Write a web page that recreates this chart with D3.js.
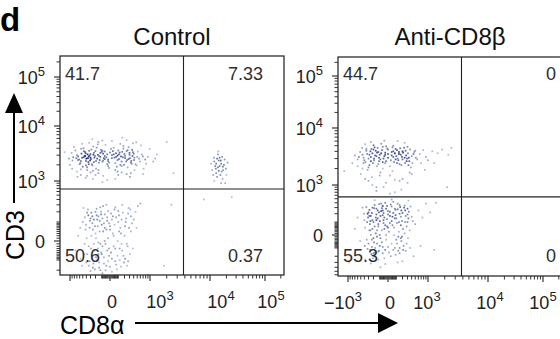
<!DOCTYPE html>
<html>
<head>
<meta charset="utf-8">
<script src="https://cdn.jsdelivr.net/npm/d3@7"></script>
<style>
  body { margin: 0; background: #fff; }
  svg { display: block; }
  text { font-family: "Liberation Sans", Arial, sans-serif; }
</style>
</head>
<body>
<svg id="chart" width="560" height="339"></svg>
<script>
// ---------------- data ----------------
const panelTitles = ["Control", "Anti-CD8\u03B2"];

// quadrant frequencies (%)
const pctUL = [41.7, 44.7];
const pctUR = [7.33, 0];
const pctLL = [50.6, 55.3];
const pctLR = [0.37, 0];

// quadrant gate positions (fluorescence units)
const gateCD8a = [3800, 3800];
const gateCD3 = [680, 550];

// axis ticks
const majorTicksX = [-1000, 0, 1000, 10000, 100000];
const labelledTicksX = [[0, 1000, 10000, 100000], [-1000, 0, 1000, 10000, 100000]];
const labelledTicksY = [0, 1000, 10000, 100000];

// events: [CD8a, CD3]
const ctrlCD3pos = [
[-120,2800],[40,3100],[-310,2400],[210,2650],[-60,3500],[-450,2900],[150,1900],[-230,3300],[330,2200],[-20,2500],
[-180,4100],[90,2950],[-380,1800],[260,3700],[-90,2300],[10,3900],[-540,3200],[420,2700],[-270,2050],[120,3350],
[-150,1600],[-40,2750],[300,3050],[-620,2500],[180,4400],[-330,3600],[60,2150],[-210,2900],[480,1950],[-80,3200],
[-700,3000],[250,2450],[-10,1750],[-360,2650],[140,2850],[-480,4000],[380,3400],[-140,2200],[20,3000],[-260,1950],
[560,2600],[-50,4600],[-410,2350],[200,3150],[-170,2600],[-850,2750],[80,1850],[-300,3150],[340,2350],[-110,3750],
[-580,2150],[110,2550],[-240,4300],[-30,2050],[650,3100],[-440,3450],[170,2750],[-190,1700],[30,3550],[-340,2850],
[450,2050],[-70,2650],[-920,3300],[280,4200],[-130,2450],[-500,1850],[70,3250],[-280,3800],[370,2900],[-20,1900],
[-660,2450],[230,2300],[-160,3050],[-400,2600],[130,4800],[-60,2900],[780,2500],[-350,2250],[0,3350],[-220,2700],
[520,3500],[-760,3650],[190,2000],[-100,3450],[-470,2750],[310,2650],[-250,1550],[50,2700],[-550,3900],[400,3200],
[-190,2350],[-1050,2600],[100,3650],[-320,2950],[260,1800],[-80,2400],[-600,2050],[160,3450],[-420,3250],[590,2300],
[900,2800],[1150,2300],[1350,3100],[720,1700],[980,3900],[-1000,2000],[-820,4200],[620,4500],[-150,5200],[240,5600],
[-380,1250],[60,1100],[-90,950],[330,1400],[-560,1300],[470,5100],[-260,5800],[820,2100],[1250,2600],[-700,1500],
[-30,3100],[-370,3100],[210,2900],[-140,2900],[90,2450],[-290,2550],[360,3750],[-520,2700],[-10,2200],[180,3950],
[-230,2250],[-470,3550],[280,2550],[-120,3300],[40,4100],[-650,2850],[130,2000],[-200,3550],[410,2450],[-60,2550],
[-880,2400],[300,3300],[-340,2050],[70,2800],[-430,2900],[500,2800],[-160,4700],[-20,2350],[240,3550],[-560,2350],
[150,2300],[-300,2700],[-90,3600],[690,2850],[-410,1950],[20,2650],[-240,3050],[350,2100],[-720,2650],[110,3100],
[-200,1300],[150,1450],[-420,1150],[60,1600],[-80,1250],[310,1200],[-560,1650],[240,1350],[-30,1050],[-300,1450],
[420,1600],[-150,1400],[100,1300],[-680,1200],[20,5400],[-330,5000],[160,6200],[-520,4800],[380,4900],[-90,5500],
[700,1350],[-900,1700],[-250,1100],[90,1500],[-380,1600]
];
const ctrlCD3neg = [
[-80,40],[120,-30],[-260,90],[30,150],[-150,-60],[-20,10],[210,70],[-340,-20],[60,-110],[-110,200],
[-200,30],[150,120],[-40,-150],[-300,130],[90,0],[-170,-100],[270,180],[-60,60],[-420,50],[10,-50],
[-130,110],[180,-70],[-240,-130],[50,230],[-90,-20],[330,40],[-10,90],[-380,-60],[110,160],[-190,10],
[-50,-200],[240,-10],[-280,190],[0,50],[-160,70],[400,120],[-70,-80],[-500,100],[140,30],[-30,140],
[-220,-40],[70,-140],[-120,-10],[280,250],[-350,160],[20,-90],[-100,80],[190,-120],[-270,-90],[100,100],
[-450,-10],[-10,-30],[360,90],[-180,240],[40,20],[-320,60],[160,-40],[-60,170],[-140,-170],[230,130],
[-400,-120],[80,-190],[-230,120],[-20,-110],[310,-60],[-80,280],[-580,60],[130,60],[-110,-50],[20,120],
[-290,-30],[450,200],[-150,150],[60,-30],[-40,50],[-360,230],[200,20],[-250,-170],[-90,130],[120,-100],
[-190,-80],[10,180],[-470,-60],[260,-20],[-50,-10],[-310,110],[170,190],[-130,40],[-650,20],[90,-70],
[-20,210],[-210,70],[330,150],[-70,-130],[-390,10],[50,80],[-160,-30],[520,280],[-120,260],[-260,150],
[0,-160],[220,100],[-340,-150],[-30,110],[140,-160],[-440,140],[-100,-60],[290,60],[-200,200],[30,30],
[-560,-90],[-60,0],[380,-30],[-170,120],[70,140],[-280,20],[100,210],[-120,-200],[-10,-70],[-230,-10],
[600,320],[-750,-40],[480,60],[-40,300],[-300,-210],[160,300],[-480,250],[250,-150],[-90,-240],[20,-220],
[-180,160],[110,40],[-320,-110],[-70,90],[210,-90],[-410,80],[40,-20],[-140,-120],[320,230],[-250,50],
[-30,-40],[-520,-150],[150,-10],[-110,170],[-210,-190],[60,260],[270,-110],[-380,190],[-150,-5],[0,70]
];
const ctrlCD8pos = [
[14000,1800],[12000,2300],[16500,1500],[13500,1200],[18000,2000],[15000,2700],[11000,1600],[17000,1100],[14500,2400],[19500,1700],
[12500,1900],[16000,2100],[13000,1400],[15500,1300],[21000,2200],[10500,2100],[14000,3100],[17500,1600],[12000,1000],[15000,1900],
[13500,2600],[16000,900],[18500,2500],[11500,1300],[14500,1550],[20000,1300],[13000,2100],[15800,2400],[12800,1700],[17200,1850],
[14200,3500],[16700,2800],[11800,2700],[19000,900]
];
const ctrlOther = [[8000,400],[25000,450],[2400,300],[2000,5200],[1800,-150],[-1300,3400],[2600,1400],[900,-260]];

const antiCD3pos = [
[40,3400],[-120,3900],[200,2900],[-250,3200],[90,4400],[-60,2600],[310,3700],[-180,4700],[0,3100],[150,2400],
[-330,3600],[260,4100],[-90,2900],[60,5000],[-210,2500],[400,3300],[-30,3800],[120,3000],[-150,3300],[230,4600],
[-400,2800],[20,2200],[-70,4200],[340,2700],[-260,4000],[170,3500],[-120,2400],[80,3700],[-20,4900],[290,3000],
[-350,4400],[-190,2800],[110,4200],[-40,3300],[470,3900],[-280,2300],[30,2800],[190,3200],[-100,3500],[-450,3500],
[250,2500],[-10,4500],[-220,3700],[140,3900],[-60,2000],[360,4300],[-160,4100],[70,2600],[-300,3000],[520,3100],
[-80,5400],[210,3800],[-370,2600],[0,3600],[-140,2200],[130,2800],[-240,4400],[420,2500],[60,4000],[-50,3000],
[-520,3900],[300,4800],[-110,3100],[180,2300],[-200,5100],[100,3300],[-30,2500],[270,3400],[-420,3100],[50,4700],
[650,3600],[-170,3400],[-600,2900],[780,4200],[-90,1700],[380,2100],[900,3200],[1200,4000],[-700,3400],[1500,3700],
[240,5600],[-320,1900],[20,1500],[560,2900],[-460,4600],[1000,2800],[-40,6100],[150,1200],[-230,1400],[1800,4300],
[330,3100],[-130,4600],[60,3200],[-280,3500],[200,4000],[-20,2700],[450,3600],[-190,3000],[110,2500],[-350,4100],
[0,4300],[-80,3700],[240,3100],[-250,2700],[90,2900],[-420,2500],[320,2300],[-140,3800],[160,4500],[-30,3500],
[-560,3200],[500,4100],[-110,2700],[40,3900],[-200,4300],[280,2700],[-300,2100],[140,3600],[-60,4800],[700,2500],
[2300,3500],[-800,2500],[1300,2500],[2600,4600],[-150,900],[80,700],[400,1600],[-500,1600],[850,1900],[-380,5300],
[-100,1500],[200,1300],[-300,1200],[50,1800],[-450,2000],[350,1700],[-20,1100],[120,6000],[-250,5800],[-600,2200],
[-50,900],[180,800],[-220,1000],[300,1100],[20,650],[-380,1300],[80,1250],[-150,750]
];
const antiCD3neg = [
[0,50],[-150,120],[180,-40],[-60,250],[90,180],[-280,30],[250,100],[-100,-80],[40,320],[-200,-20],
[140,20],[-40,150],[-320,200],[300,280],[-120,60],[60,-120],[-220,300],[200,210],[-20,-30],[-170,-150],
[110,90],[-80,380],[350,30],[-260,110],[20,230],[-140,-10],[240,340],[-50,90],[-380,50],[150,-100],
[-110,220],[70,0],[-230,-90],[400,160],[-10,130],[-180,60],[120,270],[-300,-60],[30,-200],[-70,-50],
[280,60],[-150,280],[80,140],[-250,170],[190,-10],[-30,400],[-120,-140],[330,230],[-200,100],[10,20],
[-90,170],[160,310],[-340,-30],[50,70],[-160,10],[220,-80],[-60,-160],[-280,260],[100,-30],[-20,280],
[430,110],[-130,140],[0,-90],[-240,-170],[170,160],[-70,30],[260,-130],[-180,350],[40,110],[-400,120],
[120,380],[-100,0],[310,-20],[-220,40],[60,210],[-40,-230],[-150,190],[210,40],[-310,150],[-10,60],
[90,-180],[-190,-50],[370,320],[-60,330],[140,100],[-260,-120],[20,170],[-120,80],[260,170],[-350,310],
[-30,-120],[180,250],[-210,-230],[70,50],[-80,240],[500,80],[-140,-60],[30,360],[-270,80],[110,-60],
[-50,120],[320,140],[-170,-100],[0,240],[-230,210],[150,-160],[-110,370],[230,300],[-20,0],[-390,-80],
[80,280],[-90,-20],[280,-60],[-160,150],[40,-60],[-300,220],[190,110],[-60,180],[-200,-160],[100,140],
[-130,250],[10,-150],[360,-100],[-250,0],[150,200],[-40,40],[-410,200],[60,420],[-100,110],[240,10],
[-180,-200],[20,90],[-330,100],[130,-130],[-70,290],[300,190],[-230,-30],[-10,330],[170,-20],[-120,-250],
[600,250],[-520,-40],[750,150],[-450,300],[900,380],[1100,220],[-30,-330],[120,-300],[-250,-320],[450,-200],
[-600,150],[1400,400],[40,480],[-180,460],[320,450],[-90,-400],[200,-280],[-380,-250],[680,-80],[-700,40],
[50,160],[-140,30],[210,-120],[-280,170],[90,260],[-60,-90],[170,70],[-220,120],[0,190],[-110,-130],
[250,250],[-320,-110],[130,-10],[-50,210],[-190,290],[80,-100],[-260,30],[300,100],[-30,70],[150,350]
];
const antiOther = [[1300,-120],[-950,-300],[2200,900],[-1200,1800]];

const eventsByPanel = [
  [ctrlCD3pos, ctrlCD3neg, ctrlCD8pos, ctrlOther],
  [antiCD3pos, antiCD3neg, antiOther]
];

// ---------------- layout ----------------
const svg = d3.select("#chart");
const frames = [
  { left: 60, top: 56, bottom: 275, width: 224 },
  { left: 338, top: 57, bottom: 276, width: 224 }
];
// horizontal placement tweaks of the x tick labels, per panel and tick
const xLabelNudge = [[2, 10, 11, 6], [-5, 2, -1, 2, 0]];

// biexponential-style display: symlog segments pinned at the decade ticks
const xDomain = [-1600, -1000, 0, 1000, 10000, 100000, 230000];
const xFrac = [0, 10, 50, 90, 150, 205, 224];
const yDomains = [[-265, 0, 1000, 10000, 100000, 262144], [-640, 0, 1000, 10000, 100000, 262144]];
const yPixels = [[275, 241, 181, 126, 77, 56], [276, 235, 185, 128, 76, 57]];
const yConstants = [76, 137];

function minorValues(lo, hi) {
  const out = [];
  [10, 100, 1000, 10000, 100000].forEach(dec => {
    for (let m = 1; m < 10; m++) {
      const v = m * dec;
      if (v <= hi && !majorTicksX.includes(v)) out.push(v);
      if (-v >= lo && !majorTicksX.includes(-v)) out.push(-v);
    }
  });
  return out;
}

function powLabel(sel, v) {
  if (v === 0) { sel.text("0"); return; }
  const e = Math.round(Math.log10(Math.abs(v)));
  sel.append("tspan").text((v < 0 ? "\u2212" : "") + "10");
  sel.append("tspan").attr("dy", -8).attr("font-size", 13).text(e);
}

const dotColor = d3.interpolateRgb("#c3cbe2", "#1c2878");

frames.forEach((f, i) => {
  const x = d3.scaleSymlog().constant(256)
    .domain(xDomain).range(xFrac.map(p => f.left + p));
  const y = d3.scaleSymlog().constant(yConstants[i])
    .domain(yDomains[i]).range(yPixels[i]);
  const right = f.left + f.width;

  const g = svg.append("g");
  const clipId = "clip" + i;
  g.append("clipPath").attr("id", clipId).append("rect")
    .attr("x", f.left).attr("y", f.top).attr("width", f.width).attr("height", f.bottom - f.top);

  // events, shaded by local density
  const pts = eventsByPanel[i].flat().map(d => ({ px: x(d[0]), py: y(d[1]) }));
  pts.forEach(p => {
    p.n = pts.reduce((acc, q) => acc + ((q.px - p.px) ** 2 + (q.py - p.py) ** 2 < 20 ? 1 : 0), 0);
  });
  const nMax = d3.max(pts, p => p.n);
  g.append("g").attr("clip-path", `url(#${clipId})`)
    .selectAll("rect").data(pts).join("rect")
    .attr("x", p => p.px - 0.85).attr("y", p => p.py - 0.85)
    .attr("width", 1.7).attr("height", 1.7)
    .attr("fill", p => dotColor(Math.pow(p.n / nMax, 0.9)));

  // quadrant gates
  g.append("line").attr("x1", x(gateCD8a[i])).attr("x2", x(gateCD8a[i]))
    .attr("y1", f.top).attr("y2", f.bottom).attr("stroke", "#222").attr("stroke-width", 1.1);
  g.append("line").attr("x1", f.left).attr("x2", right)
    .attr("y1", y(gateCD3[i])).attr("y2", y(gateCD3[i])).attr("stroke", "#222").attr("stroke-width", 1.1);

  // frame
  g.append("rect").attr("x", f.left).attr("y", f.top).attr("width", f.width).attr("height", f.bottom - f.top)
    .attr("fill", "none").attr("stroke", "#1c1c1c").attr("stroke-width", 1.2);

  // x ticks
  const xMin = minorValues(xDomain[0], xDomain[xDomain.length - 1]);
  g.selectAll(".xm").data(xMin).join("line")
    .attr("x1", d => x(d)).attr("x2", d => x(d))
    .attr("y1", f.bottom).attr("y2", f.bottom + 3.5).attr("stroke", "#333").attr("stroke-width", 1);
  g.selectAll(".xM").data(majorTicksX).join("line")
    .attr("x1", d => x(d)).attr("x2", d => x(d))
    .attr("y1", f.bottom).attr("y2", f.bottom + 6).attr("stroke", "#222").attr("stroke-width", 1.1);
  labelledTicksX[i].forEach((v, k) => {
    g.append("text").attr("x", x(v) + xLabelNudge[i][k]).attr("y", f.bottom + 33)
      .attr("text-anchor", "middle").attr("font-size", 18).attr("fill", "#222")
      .call(powLabel, v);
  });

  // y ticks
  const yd = yDomains[i];
  const yMin = minorValues(yd[0], yd[yd.length - 1]).filter(v => !labelledTicksY.includes(v));
  g.selectAll(".ym").data(yMin).join("line")
    .attr("x1", f.left - 3.5).attr("x2", f.left)
    .attr("y1", d => y(d)).attr("y2", d => y(d)).attr("stroke", "#333").attr("stroke-width", 1);
  g.selectAll(".yM").data(labelledTicksY).join("line")
    .attr("x1", f.left - 6).attr("x2", f.left)
    .attr("y1", d => y(d)).attr("y2", d => y(d)).attr("stroke", "#222").attr("stroke-width", 1.1);
  labelledTicksY.forEach(v => {
    g.append("text").attr("x", f.left - 15).attr("y", y(v) + 7)
      .attr("text-anchor", "end").attr("font-size", 18).attr("fill", "#222")
      .call(powLabel, v);
  });

  // title
  g.append("text").attr("x", f.left + 112).attr("y", 45).attr("text-anchor", "middle")
    .attr("font-size", 24).attr("fill", "#111").text(panelTitles[i]);

  // quadrant frequencies
  const qRight = [263, 556][i];
  const qStyle = s => s.attr("font-size", 18).attr("fill", "#2e2e2e");
  g.append("text").attr("x", f.left + 5).attr("y", 80).call(qStyle).text(String(pctUL[i]));
  g.append("text").attr("x", qRight).attr("y", 80).attr("text-anchor", "end").call(qStyle).text(String(pctUR[i]));
  g.append("text").attr("x", f.left + 5).attr("y", 262).call(qStyle).text(String(pctLL[i]));
  g.append("text").attr("x", qRight).attr("y", 262).attr("text-anchor", "end").call(qStyle).text(String(pctLR[i]));
});

// panel letter
svg.append("text").attr("x", 0).attr("y", 31).attr("font-size", 33).attr("font-weight", "bold")
  .attr("fill", "#000").text("d");

// axis names with arrows
svg.append("line").attr("x1", 14).attr("x2", 14).attr("y1", 203).attr("y2", 110)
  .attr("stroke", "#000").attr("stroke-width", 2);
svg.append("path").attr("d", "M5,113 L23,113 L14,93 Z").attr("fill", "#000");
svg.append("text").attr("transform", "translate(23.5,235) rotate(-90)").attr("text-anchor", "middle")
  .attr("font-size", 25).attr("fill", "#000").text("CD3");

svg.append("line").attr("x1", 135).attr("x2", 381).attr("y1", 323).attr("y2", 323)
  .attr("stroke", "#000").attr("stroke-width", 2);
svg.append("path").attr("d", "M378,313 L378,333 L398,323 Z").attr("fill", "#000");
svg.append("text").attr("x", 60).attr("y", 333.5).attr("font-size", 25).attr("fill", "#000").text("CD8\u03B1");
</script>
</body>
</html>
